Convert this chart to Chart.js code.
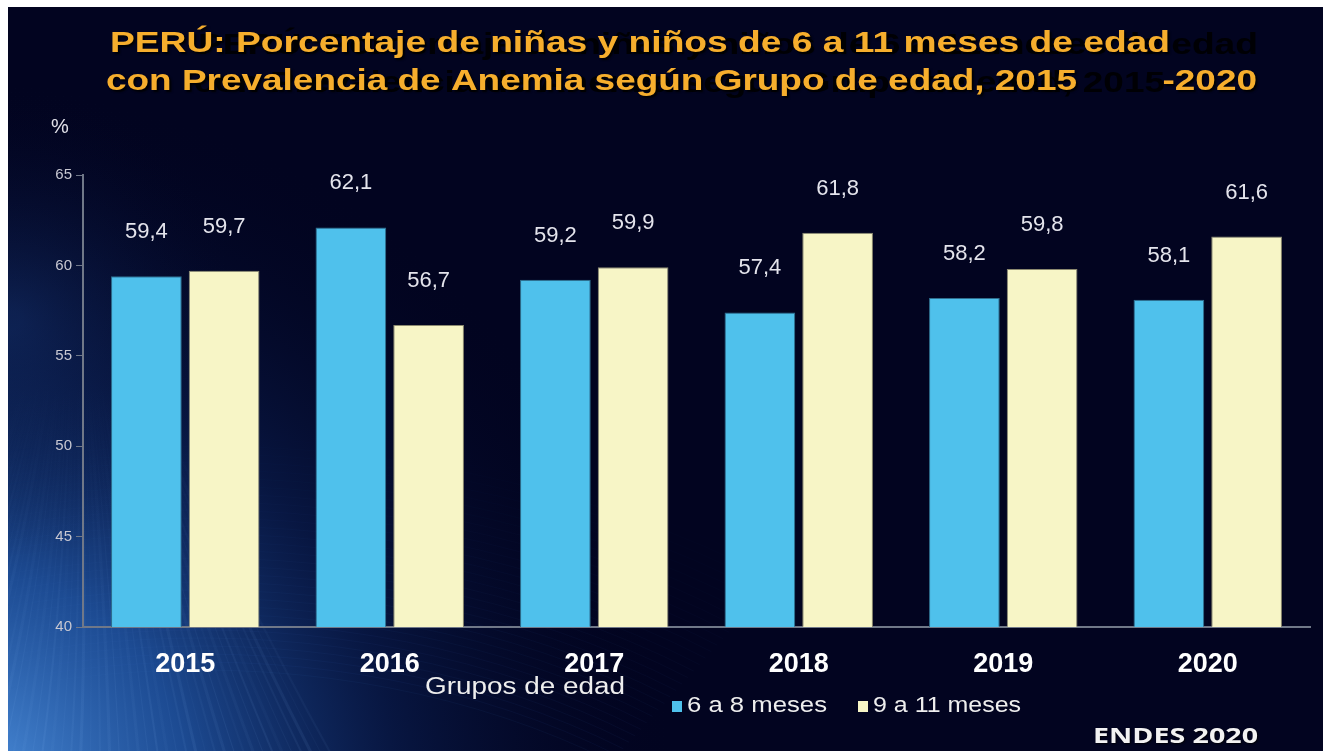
<!DOCTYPE html>
<html>
<head>
<meta charset="utf-8">
<script src="https://cdn.jsdelivr.net/npm/chart.js@4.4.1/dist/chart.umd.min.js"></script>
<style>
  html, body { margin: 0; padding: 0; background: #fff; }
  #wrap { width: 1323px; height: 751px; position: relative; }
</style>
</head>
<body>
<div id="wrap"><canvas id="anemiaChart" width="1323" height="751"></canvas></div>
<script>
// datos (ENDES 2020)
var years = ['2015', '2016', '2017', '2018', '2019', '2020'];
var meses6a8 = [59.4, 62.1, 59.2, 57.4, 58.2, 58.1];
var meses9a11 = [59.7, 56.7, 59.9, 61.8, 59.8, 61.6];
var seriesNames = ['6 a 8 meses', '9 a 11 meses'];
var yTicks = [40, 45, 50, 55, 60, 65];

var titleLine1 = 'PERÚ: Porcentaje de niñas y niños de 6 a 11 meses de edad';
var titleLine2 = 'con Prevalencia de Anemia según Grupo de edad, 2015';
var titleTail = '-2020';

var SANS = '"Liberation Sans", Arial, sans-serif';

// texto estirado en horizontal (la diapositiva original esta ensanchada)
function stretchText(ctx, text, x, y, sx) {
    ctx.save();
    ctx.translate(x, y);
    ctx.scale(sx, 1);
    ctx.fillText(text, 0, 0);
    ctx.restore();
}

// fondo azul oscuro con destellos
var backgroundPlugin = {
    id: 'fondo',
    beforeDraw: function(chart) {
        var ctx = chart.ctx;
        ctx.save();
        ctx.fillStyle = '#ffffff';
        ctx.fillRect(0, 0, 1323, 751);
        ctx.fillStyle = '#020420';
        ctx.fillRect(8, 7, 1315, 744);

        ctx.beginPath();
        ctx.rect(8, 7, 1315, 744);
        ctx.clip();

        var g = ctx.createRadialGradient(-40, 800, 20, -40, 800, 720);
        g.addColorStop(0, 'rgba(80,150,230,0.95)');
        g.addColorStop(0.3, 'rgba(40,105,195,0.7)');
        g.addColorStop(0.6, 'rgba(18,55,125,0.35)');
        g.addColorStop(1, 'rgba(2,4,32,0)');
        ctx.fillStyle = g;
        ctx.fillRect(8, 7, 1315, 744);

        // rayos en la esquina inferior izquierda (se desvanecen hacia arriba)
        for (var i = 0; i < 50; i++) {
            var a = 0.04 + (i % 4) * 0.015;
            var lg = ctx.createLinearGradient(0, 770, 0, 380);
            lg.addColorStop(0, 'rgba(140,190,250,' + a + ')');
            lg.addColorStop(1, 'rgba(140,190,250,0)');
            ctx.strokeStyle = lg;
            ctx.lineWidth = 1 + (i % 3);
            ctx.beginPath();
            var sx = -150 + i * 10;
            ctx.moveTo(sx, 770);
            ctx.quadraticCurveTo(sx * 0.6 + 40, 600, sx * 0.25 + 60, 380);
            ctx.stroke();
        }
        // arcos inferiores
        for (var j = 0; j < 30; j++) {
            ctx.strokeStyle = 'rgba(60,110,190,' + (0.07 - j * 0.002) + ')';
            ctx.lineWidth = 1;
            ctx.beginPath();
            ctx.ellipse(200, 1150, 700 + j * 10, 480 + j * 8, 0, Math.PI * 1.25, Math.PI * 1.7);
            ctx.stroke();
        }
        var g2 = ctx.createRadialGradient(10, 320, 10, 10, 320, 240);
        g2.addColorStop(0, 'rgba(30,70,140,0.3)');
        g2.addColorStop(1, 'rgba(2,4,32,0)');
        ctx.fillStyle = g2;
        ctx.fillRect(8, 7, 400, 600);
        ctx.restore();
    }
};

// textos: titulo, etiquetas, leyenda
var textPlugin = {
    id: 'textos',
    afterDraw: function(chart) {
        var ctx = chart.ctx;
        ctx.save();

        ctx.textBaseline = 'middle';
        ctx.textAlign = 'left';
        ctx.font = 'bold 30px ' + SANS;
        var sxTitle = 1060 / ctx.measureText(titleLine1).width;
        var sxLine2 = 971 / ctx.measureText(titleLine2).width;
        var tailW = ctx.measureText(titleTail).width * sxLine2;

        // texto fantasma detras del titulo
        ctx.fillStyle = '#000004';
        stretchText(ctx, titleLine1, 198, 46, sxTitle);
        stretchText(ctx, titleLine2, 194, 84, sxLine2);

        ctx.shadowColor = 'rgba(0,0,0,0.9)';
        ctx.shadowOffsetX = 2;
        ctx.shadowOffsetY = 2;
        ctx.shadowBlur = 2;
        ctx.fillStyle = '#F6AE2D';
        stretchText(ctx, titleLine1, 110, 44, sxTitle);
        stretchText(ctx, titleLine2, 106, 82, sxLine2);
        stretchText(ctx, titleTail, 1257 - tailW, 82, sxLine2);

        // etiquetas de valores
        ctx.shadowColor = 'rgba(0,0,0,0)';
        ctx.font = '22px ' + SANS;
        ctx.fillStyle = '#E4E4EC';
        ctx.textAlign = 'center';
        chart.data.datasets.forEach(function(ds, di) {
            var meta = chart.getDatasetMeta(di);
            meta.data.forEach(function(bar, i) {
                var txt = ds.data[i].toFixed(1).replace('.', ',');
                ctx.fillText(txt, bar.x, bar.y - 44);
            });
        });

        // %
        ctx.font = '20px ' + SANS;
        ctx.fillStyle = '#E0E0E8';
        ctx.fillText('%', 60, 127);

        // Grupos de edad
        ctx.textAlign = 'left';
        ctx.font = '23px ' + SANS;
        ctx.fillStyle = '#EEEEEE';
        stretchText(ctx, 'Grupos de edad', 425, 688, 200 / ctx.measureText('Grupos de edad').width);

        // leyenda
        ctx.font = '22px ' + SANS;
        var legX = [672, 858];
        var legW = [140, 148];
        chart.data.datasets.forEach(function(ds, di) {
            ctx.fillStyle = ds.backgroundColor;
            ctx.fillRect(legX[di], 701, 10, 11);
            ctx.fillStyle = '#EEEEEE';
            stretchText(ctx, seriesNames[di], legX[di] + 15, 706,
                legW[di] / ctx.measureText(seriesNames[di]).width);
        });

        // fuente
        ctx.font = 'bold 22px "Open Sans", ' + SANS;
        ctx.shadowColor = 'rgba(0,0,0,0.8)';
        ctx.shadowOffsetX = 1;
        ctx.shadowOffsetY = 1;
        ctx.fillStyle = '#F2F2F2';
        stretchText(ctx, 'ENDES 2020', 1093, 737, 165 / ctx.measureText('ENDES 2020').width);
        ctx.restore();
    }
};

var ctx = document.getElementById('anemiaChart').getContext('2d');
new Chart(ctx, {
    type: 'bar',
    data: {
        labels: years,
        datasets: [{
            label: seriesNames[0],
            data: meses6a8,
            backgroundColor: '#4FC1EC',
            borderColor: '#2f6f8e',
            borderWidth: 1,
            barPercentage: 0.91,
            categoryPercentage: 0.76
        }, {
            label: seriesNames[1],
            data: meses9a11,
            backgroundColor: '#F7F5C6',
            borderColor: '#8c8a70',
            borderWidth: 1,
            barPercentage: 0.91,
            categoryPercentage: 0.76
        }]
    },
    options: {
        responsive: false,
        animation: false,
        layout: { padding: { top: 175, right: 13, left: 0, bottom: 0 } },
        plugins: {
            legend: { display: false },
            title: { display: false },
            tooltip: { enabled: false }
        },
        scales: {
            x: {
                grid: { display: false, drawTicks: false },
                border: { color: '#707888', width: 2 },
                ticks: {
                    color: '#FFFFFF',
                    font: { family: SANS, size: 27, weight: 'bold' },
                    padding: 21
                },
                afterFit: function(scale) { scale.height = 124; }
            },
            y: {
                min: 40,
                max: 65,
                afterBuildTicks: function(scale) {
                    scale.ticks = yTicks.map(function(v) { return { value: v }; });
                },
                grid: { drawOnChartArea: false, drawTicks: true, tickLength: 7, color: '#707888' },
                border: { color: '#707888', width: 2 },
                ticks: {
                    color: '#C8C8D2',
                    font: { family: SANS, size: 15 },
                    padding: 4
                },
                afterFit: function(scale) { scale.width = 83; }
            }
        }
    },
    plugins: [backgroundPlugin, textPlugin]
});
</script>
</body>
</html>
